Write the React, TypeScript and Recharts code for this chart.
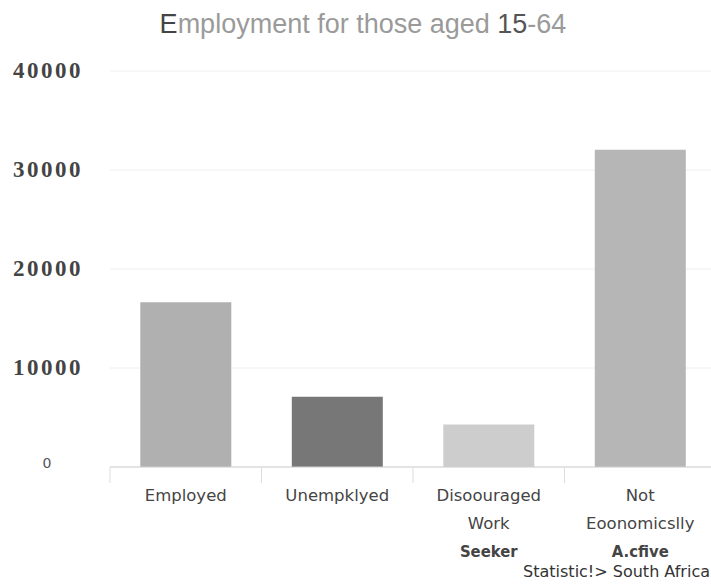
import React from 'react';
import { BarChart, Bar, XAxis, YAxis, CartesianGrid, Cell } from 'recharts';

const categories = ['Employed', 'Unempklyed', 'Disoouraged Work Seeker', 'Not Eoonomicslly A.cfive'];
const values = [16650, 7100, 4300, 32050];
const barColors = ['#b0b0b0', '#777777', '#cdcdcd', '#b6b6b6'];
const tickLabelLines = [
  ['Employed'],
  ['Unempklyed'],
  ['Disoouraged', 'Work', 'Seeker'],
  ['Not', 'Eoonomicslly', 'A.cfive'],
];
const yTicks = [0, 10000, 20000, 30000, 40000];
const titleParts = [
  { t: 'E', c: '#444' },
  { t: 'mployment for those aged ', c: '#9a9a9a' },
  { t: '15', c: '#555' },
  { t: '-64', c: '#9a9a9a' },
];
const sourceText = 'Statistic!> South Africa';

const data = categories.map((name, i) => ({ name, value: values[i] }));

const XTick = (props: any) => {
  const { x, y, payload, width, visibleTicksCount } = props;
  const idx = categories.indexOf(payload.value);
  const lines = tickLabelLines[idx] || [String(payload.value)];
  const half = width && visibleTicksCount ? width / visibleTicksCount / 2 : 0;
  return (
    <g>
      {half > 0 && (
        <line x1={x - half} x2={x - half} y1={y} y2={y + 16} stroke="#dddddd" />
      )}
      {lines.map((l, i) => (
        <text
          key={i}
          x={x}
          y={y + 34 + i * 28}
          textAnchor="middle"
          fill="#444"
          fontFamily={i === 2 ? 'DejaVu Sans Condensed' : 'DejaVu Sans'}
          fontWeight={i === 2 ? 'bold' : 'normal'}
          fontSize={16.5}
        >
          {l}
        </text>
      ))}
    </g>
  );
};

const YTick = (props: any) => {
  const { x, y, payload } = props;
  if (payload.value === 0) {
    return (
      <text x={x - 36} y={y} dy={1} textAnchor="middle" fontFamily="DejaVu Sans" fontSize={14} fill="#555">
        0
      </text>
    );
  }
  return (
    <text
      x={x}
      y={y}
      dy={7}
      textAnchor="end"
      fontFamily="Liberation Serif"
      fontWeight="bold"
      fontSize={23}
      letterSpacing={2.5}
      fill="#444"
    >
      {payload.value}
    </text>
  );
};

export default function App() {
  return (
    <div
      style={{
        position: 'absolute',
        left: 0,
        top: 0,
        width: 711,
        height: 585,
        overflow: 'hidden',
        background: '#fff',
      }}
    >
      <BarChart
        width={716}
        height={585}
        data={data}
        margin={{ top: 71, right: 0, left: 0, bottom: 0 }}
        barCategoryGap="20%"
      >
        <CartesianGrid horizontal vertical={false} stroke="#eeeeee" />
        <XAxis
          dataKey="name"
          height={118}
          axisLine={{ stroke: '#d0d0d0' }}
          tickLine={false}
          tickSize={0}
          tickMargin={0}
          tick={<XTick />}
          interval={0}
        />
        <YAxis
          width={110}
          domain={[0, 40000]}
          ticks={yTicks}
          axisLine={false}
          tickLine={false}
          tickSize={0}
          tickMargin={27}
          tick={<YTick />}
          interval={0}
        />
        <Bar dataKey="value" isAnimationActive={false}>
          {data.map((d, i) => (
            <Cell key={d.name} fill={barColors[i]} />
          ))}
        </Bar>
      </BarChart>
      <svg
        width={711}
        height={585}
        style={{ position: 'absolute', left: 0, top: 0, pointerEvents: 'none' }}
      >
        <text x={363} y={33} textAnchor="middle" fontFamily="Liberation Sans" fontSize={27}>
          {titleParts.map((p, i) => (
            <tspan key={i} fill={p.c}>
              {p.t}
            </tspan>
          ))}
        </text>
        <text x={710} y={577} textAnchor="end" fontFamily="DejaVu Sans" fontSize={16} fill="#333">
          {sourceText}
        </text>
      </svg>
    </div>
  );
}
